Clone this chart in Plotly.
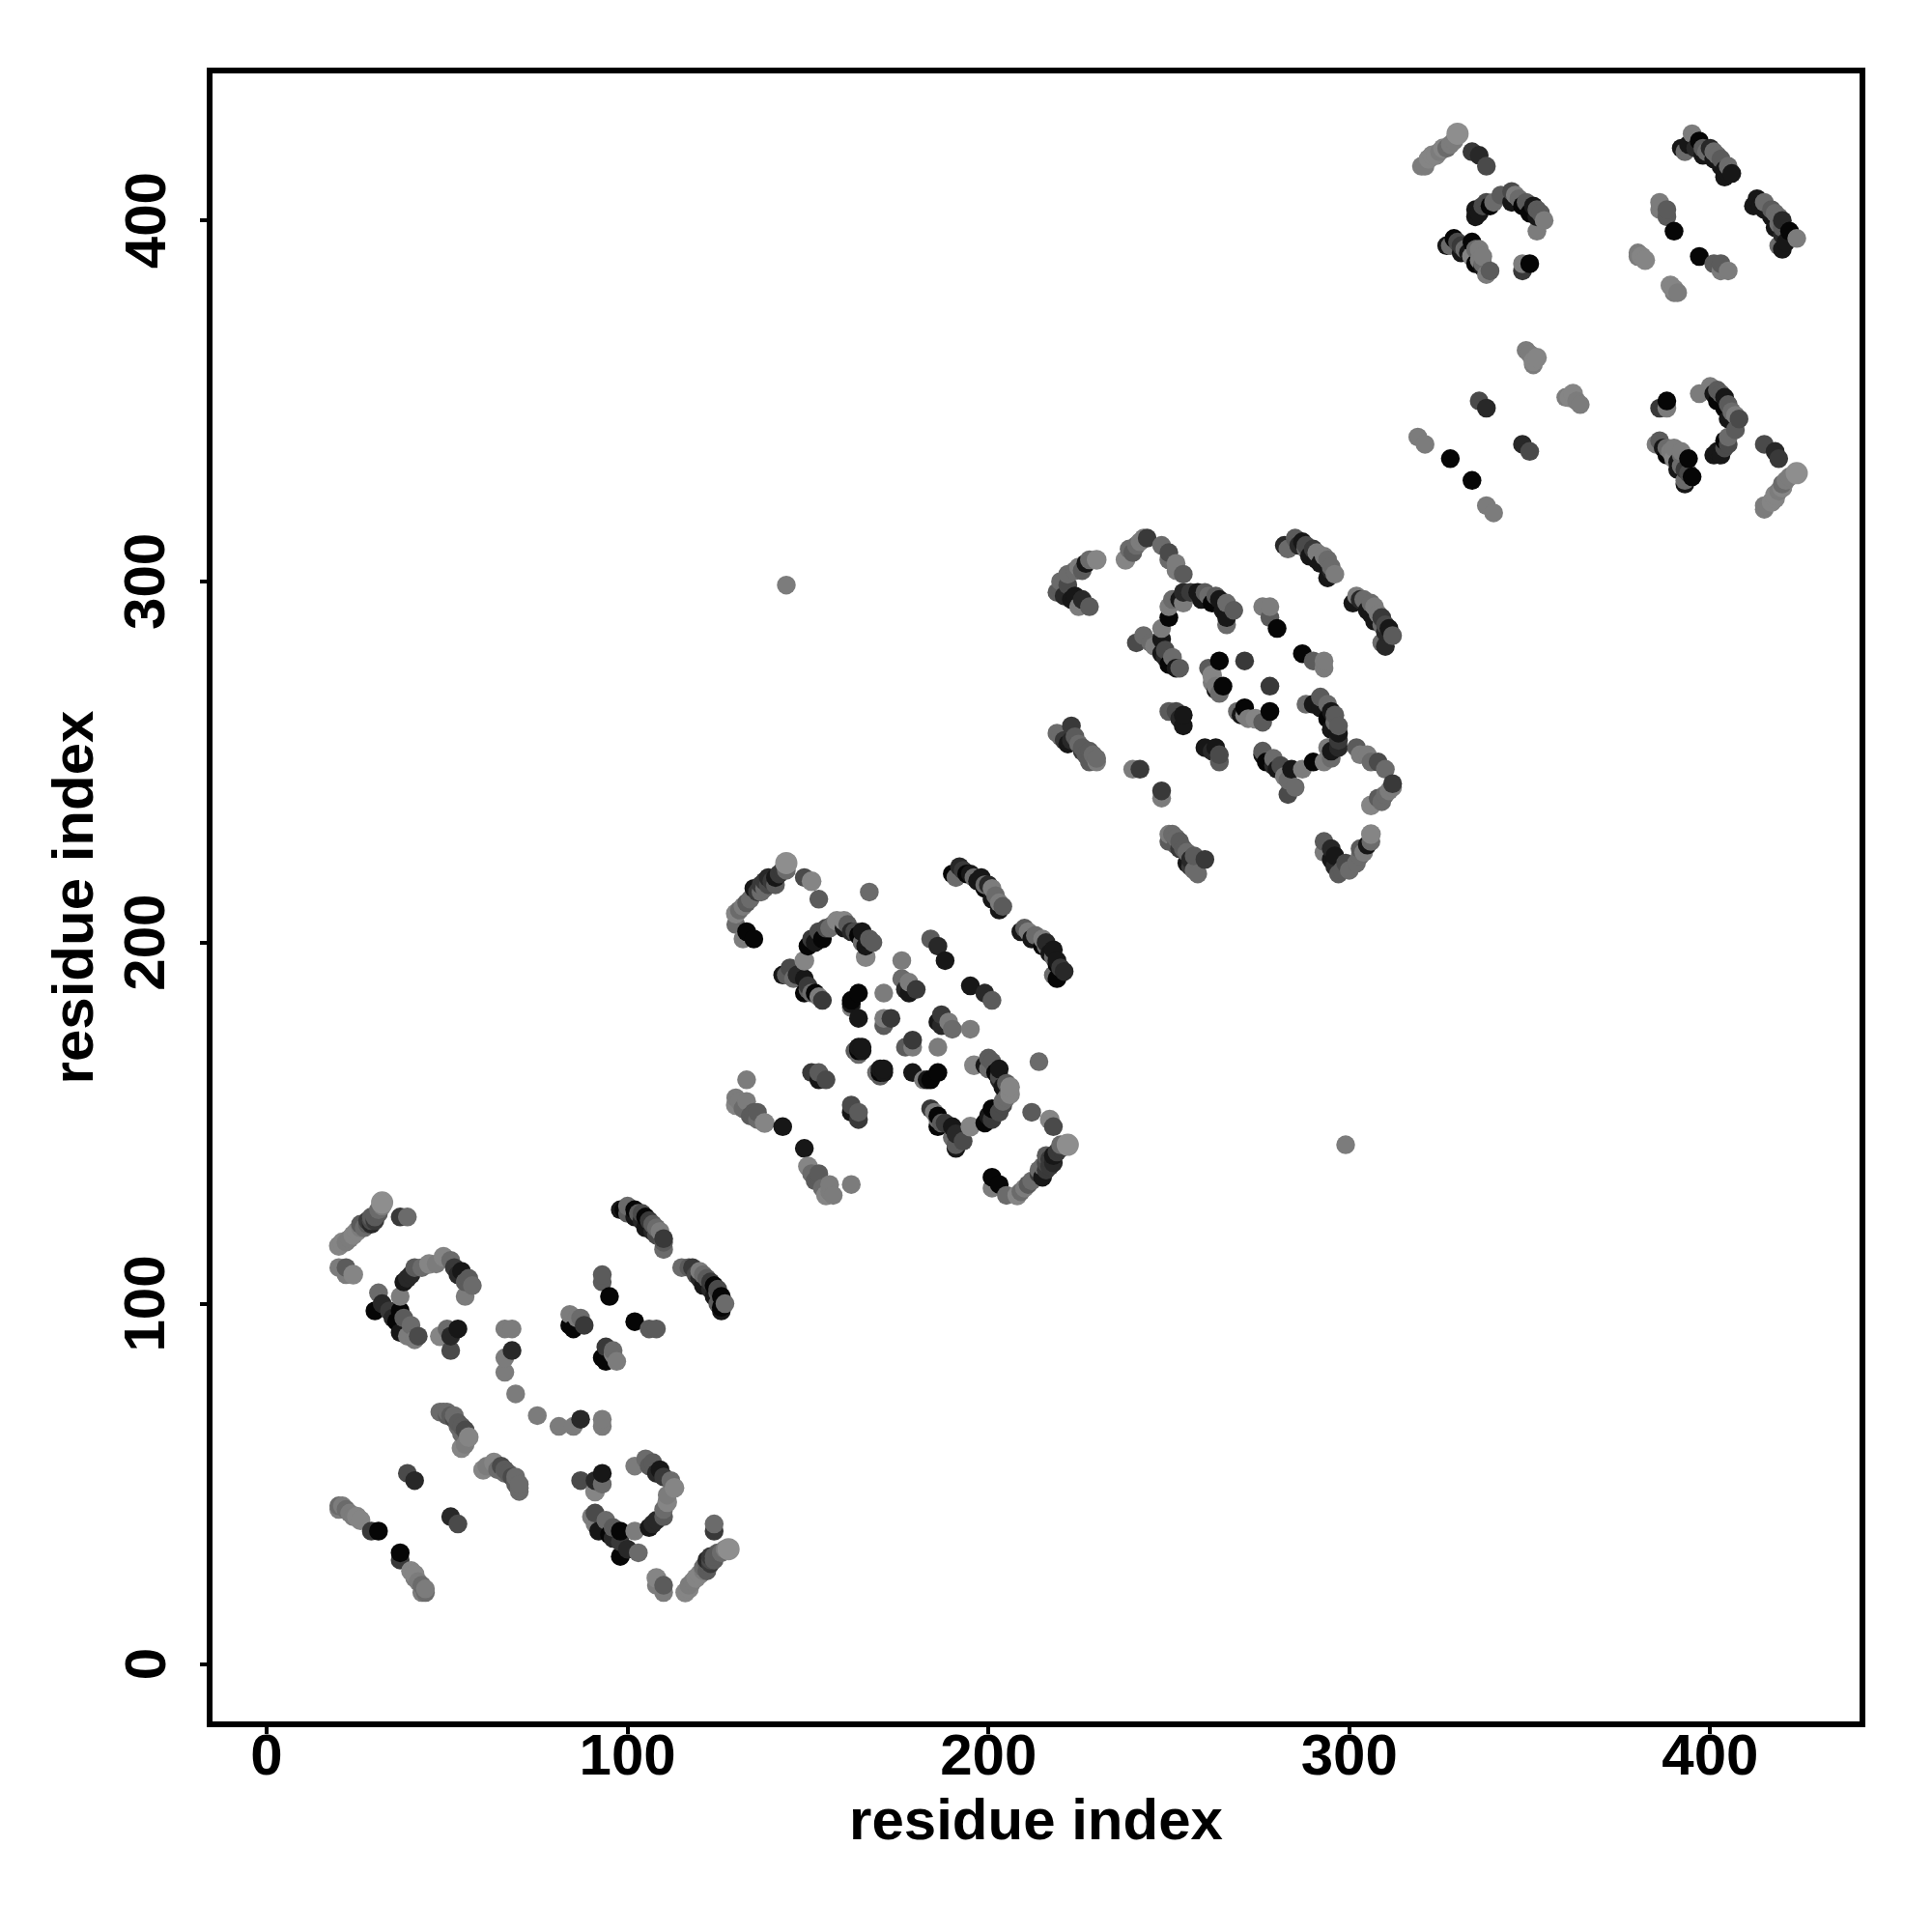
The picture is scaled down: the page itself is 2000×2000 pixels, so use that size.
import numpy as np
import plotly.graph_objects as go

tick_values = [0, 100, 200, 300, 400]
axis_label = "residue index"

# Contacts (i < j); the map is symmetric, so each is shown at (i, j) and (j, i).
# score: 0 = darkest, 9 = lightest and largest
res_i = [
    20,21,22,23,24,25,27,28,29,29,30,31,31,32,32,37,39,26,26,28,29,30,
    20,22,22,24,
    31,37,38,39,40,41,43,45,47,49,51,52,53,54,55,56,57,55,
    30,32,34,35,37,36,38,37,40,41,39,42,
    48,50,51,53,51,
    66,68,68,66,66,69,
    84,86,84,85,88,87,93,93,95,
    98,99,100,100,102,102,103,104,104,105,105,106,107,107,108,108,109,110,110,110,
    20,20,21,22,23,24,25,26,29,31,
    48,49,50,50,51,52,52,53,53,54,54,54,55,55,56,
    39,41,
    130,130,131,132,133,134,135,136,137,138,139,140,141,142,143,144,144,149,151,153,133,135,132,137,138,139,141,
    150,151,152,153,154,155,156,157,158,160,160,161,162,163,164,165,165,166,167,168,166,
    143,144,145,146,147,149,149,150,149,150,151,152,153,154,
    164,162,162,162,164,171,176,171,173,171,164,163,165,164,164,165,
    176,178,177,178,180,184,186,188,
    151,153,153,155,
    133,130,130,131,132,133,134,135,136,136,138,143,
    190,191,192,193,194,195,196,197,198,199,199,200,201,201,202,203,204,203,
    144,167,
    220,219,220,221,222,222,223,224,224,225,225,226,227,226,228,228,230,
    238,239,240,241,242,243,244,248,250,250,252,252,254,
    241,243,245,246,248,248,248,249,249,250,251,252,253,
    250,250,251,253,254,254,256,258,259,260,261,262,263,264,265,266,266,266,268,
    264,261,262,265,263,271,276,278,278,280,264,263,262,
    250,252,253,254,254,
    219,220,221,222,223,223,224,225,226,226,227,228,228,229,230,230,
    240,242,
    282,283,285,286,287,288,288,289,290,291,291,292,293,294,295,294,295,296,
    320,321,322,323,324,325,326,327,328,329,330,334,336,338,
    335,335,336,337,338,339,340,342,345,345,346,347,348,349,350,351,352,352,352,353,354,
    327,328,329,330,331,331,332,333,334,334,335,336,337,337,338,339,335,336,337,
    348,350,348,
    386,386,388,388,390,
    380,380,381,382,
    349,350,351,352,351,
    336,338,319,321,328,
    392,393,394,395,396,397,398,398,399,400,401,401,402,403,403,404,405,406,404,
]
res_j = [
    116,117,117,118,119,120,121,122,123,124,124,125,126,127,128,124,124,121,122,123,122,123,
    110,110,108,108,
    103,102,106,107,108,110,110,111,111,113,112,110,108,109,106,107,105,102,
    98,100,98,96,98,95,96,92,94,90,91,91,
    91,93,91,93,87,
    93,93,87,85,81,75,
    97,96,94,93,94,96,108,106,102,
    126,126,127,125,126,124,125,125,123,124,121,123,122,120,121,119,120,118,117,115,
    44,43,44,43,42,41,41,40,37,37,
    70,70,70,69,69,69,68,67,66,66,60,64,65,61,63,
    53,51,
    205,208,209,210,211,212,215,214,214,215,216,217,218,219,220,220,222,218,217,212,203,201,201,216,217,218,216,
    199,201,200,203,201,204,204,205,206,206,204,205,203,203,202,203,200,199,201,200,196,
    191,191,193,190,191,190,195,188,186,187,186,186,185,184,
    186,184,183,182,179,186,195,179,179,177,171,170,171,169,170,170,
    190,189,187,186,187,201,199,195,
    164,164,162,162,
    162,157,155,156,154,156,152,153,153,151,150,149,
    219,218,221,220,219,219,218,217,218,216,215,216,215,212,213,211,210,209,
    299,214,
    298,297,300,296,302,299,295,296,303,304,293,303,305,295,293,306,306,
    306,309,308,310,311,312,312,310,308,306,305,303,302,
    283,285,283,282,287,284,280,279,281,277,279,276,276,
    290,293,295,295,294,297,297,297,295,297,296,294,296,295,292,294,290,288,292,
    278,276,274,271,270,278,293,293,290,287,269,271,272,
    264,264,262,263,260,
    258,257,256,255,260,256,257,255,254,253,252,253,250,252,251,250,
    248,248,
    310,309,312,310,311,309,310,307,309,306,308,305,307,306,303,301,304,302,
    415,415,417,418,418,419,420,420,421,422,424,419,418,415,
    401,403,402,404,405,404,405,407,408,405,407,406,404,405,402,404,403,397,401,402,400,
    393,393,395,394,393,391,392,391,394,390,388,389,387,388,385,386,392,392,390,
    388,388,386,
    405,403,403,401,397,
    391,390,390,389,
    364,363,361,362,360,
    350,348,340,338,334,
    420,419,421,424,420,422,420,418,419,420,417,419,418,415,417,414,415,413,412,
]
score = [
    8,8,7,7,8,8,6,5,4,5,5,5,6,7,9,3,6,7,5,3,2,3,
    7,5,7,8,
    6,7,1,2,2,5,6,8,7,8,6,3,2,1,5,5,6,7,
    0,2,3,2,0,0,5,1,6,7,7,4,
    8,6,2,1,4,
    7,7,2,7,7,7,
    7,7,0,0,3,6,5,5,0,
    1,0,6,5,0,1,5,4,2,0,1,3,5,2,6,4,7,3,5,6,
    6,7,7,6,7,7,8,8,3,0,
    6,6,6,5,5,6,4,5,6,5,8,6,4,7,8,
    4,2,
    6,8,6,7,5,6,1,3,6,6,4,3,1,3,3,6,9,4,8,5,0,0,7,3,3,2,5,
    0,3,1,4,0,4,6,6,8,8,1,5,2,4,0,1,6,1,5,5,8,
    1,5,4,6,2,1,8,3,0,5,6,0,7,3,
    0,0,1,7,1,7,7,7,3,5,1,5,1,6,0,1,
    6,7,2,1,3,5,2,1,
    3,5,1,4,
    7,7,8,7,6,7,5,5,5,6,8,1,
    0,6,2,3,0,1,6,1,1,6,0,2,7,1,6,7,5,1,
    7,6,
    5,5,6,2,6,4,1,1,6,7,7,5,1,2,5,6,8,
    8,6,5,6,7,7,3,6,4,6,7,7,5,
    4,6,6,7,7,1,1,2,4,0,6,1,5,
    0,7,6,1,7,2,3,1,1,5,6,0,5,1,1,6,1,6,5,
    0,5,8,0,1,3,7,7,5,0,6,7,7,
    5,4,2,1,1,
    6,6,3,1,3,2,5,6,5,3,5,5,5,6,6,7,
    7,3,
    2,6,5,2,1,6,4,1,3,1,7,1,7,6,2,1,6,7,
    7,7,8,8,8,7,8,6,7,7,9,3,2,4,
    1,1,1,4,4,0,6,5,4,1,7,6,0,5,0,1,5,7,1,5,7,
    1,6,0,4,3,1,6,1,0,8,0,7,1,6,7,5,6,7,7,
    7,0,3,
    7,7,5,5,0,
    7,7,8,8,
    7,7,8,8,7,
    4,2,7,7,0,
    1,6,1,7,2,0,5,1,6,2,1,6,6,1,5,1,6,1,1,
]
assert len(res_i) == len(res_j) == len(score)

x = np.array(res_i + res_j)
y = np.array(res_j + res_i)
c = np.array(score + score)
order = np.lexsort((y, x))

fig = go.Figure(go.Scatter(
    x=x[order], y=y[order], mode="markers",
    marker=dict(color=c[order], cmin=0, cmax=9,
                colorscale=[[0, "#060606"], [0.55, "#5a5a5a"], [0.78, "#7c7c7c"], [1, "#8e8e8e"]],
                size=np.select([c[order] == 9, c[order] == 8], [23, 20.5], 19.5),
                line=dict(width=0), opacity=1),
    hoverinfo="skip",
))

tick_font = dict(family="Liberation Sans", size=60, color="black", weight=700)
title_font = dict(family="Liberation Sans", size=60, color="black", weight=700)
common = dict(tickvals=tick_values, ticks="outside", ticklen=7, tickwidth=4, tickcolor="black",
              showline=True, linecolor="black", linewidth=6, mirror=True,
              showgrid=False, zeroline=False)
fig.update_xaxes(**common, range=[-15.0, 441.4], tickfont=tick_font, ticklabelstandoff=-30,
                 title=dict(text=axis_label, font=title_font, standoff=14))
fig.update_yaxes(**common, range=[-15.7, 440.7], showticklabels=False,
                 title=dict(text=axis_label, font=title_font, standoff=93))
fig.update_layout(width=2000, height=2000, autosize=False, showlegend=False,
                  paper_bgcolor="white", plot_bgcolor="white",
                  margin=dict(l=212, r=83, t=68, b=226, autoexpand=False),
                  annotations=[dict(text=str(v), x=0, xref="paper", y=v, yref="y", xshift=-70,
                                    textangle=-90, xanchor="center", yanchor="middle",
                                    showarrow=False, font=tick_font) for v in tick_values])
fig.write_html("out.html")
